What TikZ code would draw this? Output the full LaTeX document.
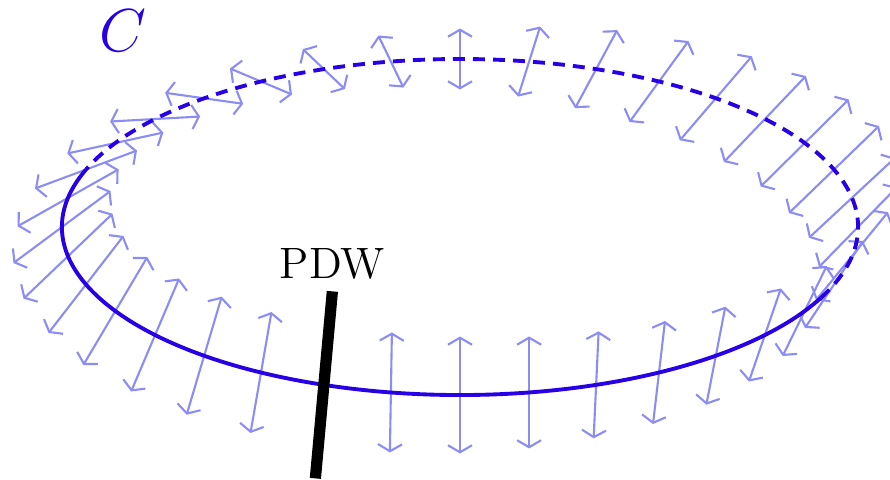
\documentclass[tikz,border=0pt]{standalone}
\usepackage{amsmath,amssymb}
\usepackage{xcolor}
\usepackage{tikz}
\usetikzlibrary{arrows.meta,calc}
\definecolor{loopblue}{RGB}{40,0,230}
\definecolor{dirblue}{RGB}{140,140,245}

\begin{document}
\begin{tikzpicture}[>={Straight Barb[length=0.7mm, width=2.4mm]},
    director/.style={<->, dirblue, line width=0.6pt},
    loopline/.style={loopblue, line width=1.1pt}]
% frame of the picture
\clip (-4.60,-2.52) rectangle (4.30,2.27);

% director at each point of the loop (angle / vector in px)
\foreach \t/\u/\v in {0/78/80, 10/86/80, 20/90/87, 30/88/87, 40/82/86,
    50/72/84, 60/59/81, 70/42/78, 80/22/70, 90/0/61, 100/-25/52,
    110/-42/40, 120/-62/26, 130/-78/11, 140/-90/-5, 150/-96/-21,
    160/102/38, 170/101/57, 180/97/72, 190/89/85, 200/75/97,
    210/64/108, 220/48/113, 230/35/118, 240/21/121, 260/2/120,
    270/0/117, 280/0/112, 290/5/107, 300/12/103, 310/19/98,
    320/32/93, 330/44/90, 340/58/87, 350/72/88}{
  \coordinate (p) at (\t:3.98 and 1.68);
  \draw[director] ($(p)-(\u/200,\v/200)$) -- ($(p)+(\u/200,\v/200)$);
}

% the loop C, back half dashed
\draw[loopline, dash pattern=on 3.4pt off 2.3pt]
    (-25:3.98 and 1.68) arc[start angle=-25, end angle=160, x radius=3.98, y radius=1.68];
\draw[loopline]
    (160:3.98 and 1.68) arc[start angle=160, end angle=335, x radius=3.98, y radius=1.68];
\node[loopblue, font=\LARGE] (clabel) at (-3.37,1.96) {$C$};

% domain wall crossing the loop
\coordinate (wall) at (250:3.98 and 1.68);
\coordinate (walltop) at ($(wall)+(0.085,0.935)$);
\coordinate (wallbot) at ($(wall)-(0.085,0.935)$);
\draw[black, line width=3.2pt] (wallbot) -- (walltop);
\node[above, font=\fontsize{12.5}{15}\selectfont] (pdw) at (walltop) {PDW};
\end{tikzpicture}
\end{document}
